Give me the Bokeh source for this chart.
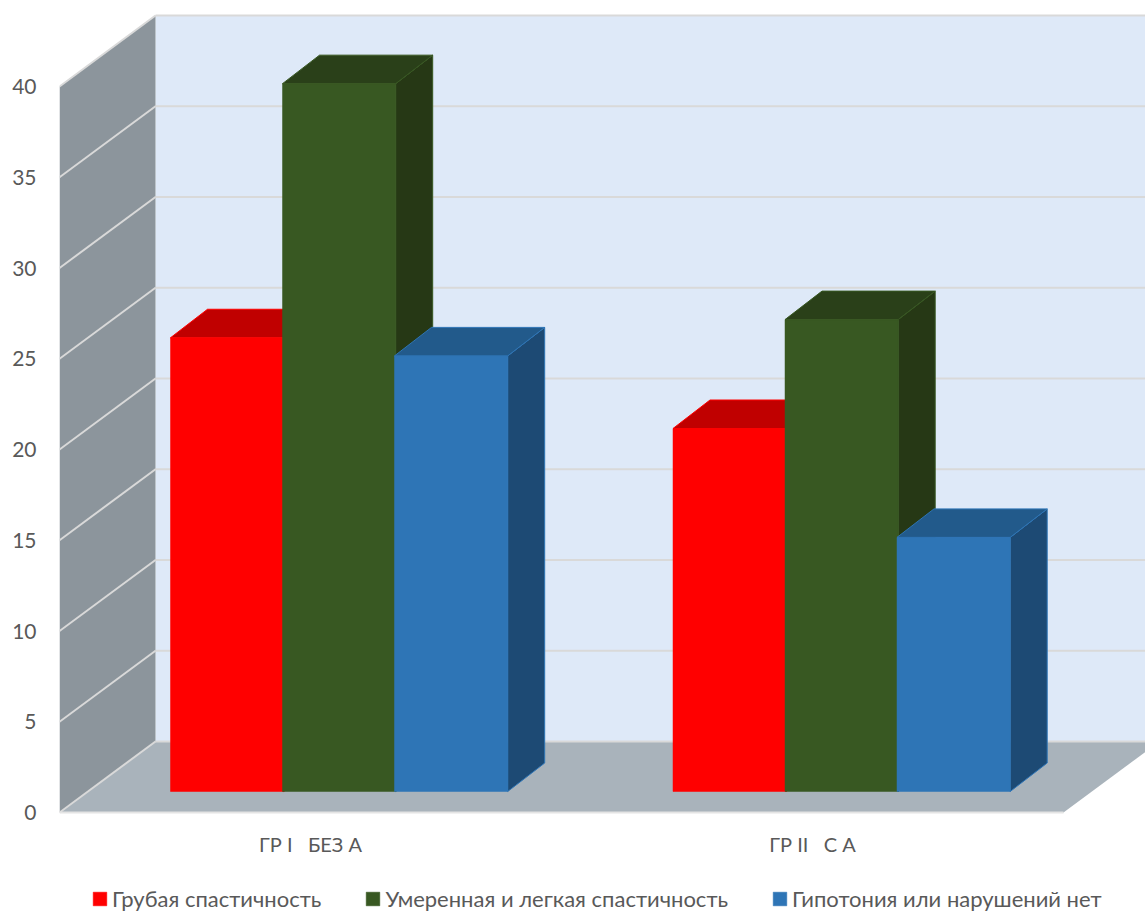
from bokeh.core.properties import value
from bokeh.embed import file_html
from bokeh.models import (FixedTicker, Legend, LegendItem, LinearAxis, Range1d)
from bokeh.plotting import figure
from bokeh.resources import INLINE

# Values
categories = ["ГР\u00a0I\u00a0\u00a0\u00a0БЕЗ\u00a0А", "ГР\u00a0II\u00a0\u00a0\u00a0С\u00a0А"]
series_names = ["Грубая спастичность", "Умеренная и легкая спастичность",
                "Гипотония или нарушений нет"]
spasticity_severe = [25, 20]
spasticity_mild = [39, 26]
hypotonia_or_none = [24, 14]
value_ticks = [0, 5, 10, 15, 20, 25, 30, 35, 40]

# Face colours per series: front, top, side
front_colors = ["#ff0000", "#385822", "#2e75b6"]
top_colors = ["#c00000", "#2a4019", "#225a8b"]
side_colors = ["#a80000", "#263815", "#1d4a74"]
edge_colors = ["#ff0000", "#385822", "#2e75b6"]

# Projection of the 3D box; x is in screen units, y in value units
PX_PER_UNIT = 18.15
WALL_LEFT, WALL_DX, WALL_DY = 59, 96, 71 / PX_PER_UNIT
WIDTH, HEIGHT = 1145, 912
ZERO_ROW = 812
FLOOR_RIGHT = 1063
TOP_VALUE = 40
BAR_LIFT = 21 / PX_PER_UNIT
BAR_DX, BAR_DY = 37, 28.5 / PX_PER_UNIT
GROUP_LEFT = [170, 672.5]
BAR_STEP, BAR_WIDTH = 112, 113.2
CATEGORY_X = [310, 812]
CATEGORY_Y = -31 / PX_PER_UNIT

y_start = (ZERO_ROW - HEIGHT) / PX_PER_UNIT
y_end = ZERO_ROW / PX_PER_UNIT

p = figure(frame_width=WIDTH - WALL_LEFT, frame_height=HEIGHT,
           output_backend="svg", toolbar_location=None,
           x_range=Range1d(WALL_LEFT, WIDTH), y_range=Range1d(y_start, y_end),
           x_axis_type=None, y_axis_type=None,
           min_border_left=WALL_LEFT, min_border_right=0, min_border_top=0,
           min_border_bottom=0)
p.outline_line_color = None
p.grid.visible = False
p.background_fill_color = "#ffffff"
p.border_fill_color = "#ffffff"

back_x, back_y = WALL_LEFT + WALL_DX, WALL_DY

# Back wall
p.patch([back_x, WIDTH, WIDTH, back_x], [back_y, back_y, back_y + TOP_VALUE, back_y + TOP_VALUE],
        fill_color="#dee9f8", line_color=None)
# Side wall
p.patch([WALL_LEFT, back_x, back_x, WALL_LEFT], [0, back_y, back_y + TOP_VALUE, TOP_VALUE],
        fill_color="#8c959c", line_color=None)
# Floor
floor_right_end = FLOOR_RIGHT + WALL_DX
p.patch([WALL_LEFT, FLOOR_RIGHT, floor_right_end, back_x], [0, 0, back_y, back_y],
        fill_color="#a9b3bb", line_color=None)

# Grid lines on the walls
for v in value_ticks:
    p.line([back_x, WIDTH], [back_y + v, back_y + v], line_color="#d9d9d9", line_width=2.2)
    p.line([WALL_LEFT, back_x], [v, back_y + v], line_color="#d9d9d9", line_width=2)
p.line([WALL_LEFT, FLOOR_RIGHT], [0, 0], line_color="#e4e4e4", line_width=2)

# Bars, painted left to right so that each one covers its neighbour's side
legend_renderers = []
all_values = [spasticity_severe, spasticity_mild, hypotonia_or_none]
for g, left in enumerate(GROUP_LEFT):
    for s, vals in enumerate(all_values):
        x0, x1 = left + s * BAR_STEP, left + s * BAR_STEP + BAR_WIDTH
        y0, y1 = BAR_LIFT, BAR_LIFT + vals[g]
        p.patch([x1, x1 + BAR_DX, x1 + BAR_DX, x1], [y0, y0 + BAR_DY, y1 + BAR_DY, y1],
                fill_color=side_colors[s], line_color=edge_colors[s], line_width=1)
        p.patch([x0, x1, x1 + BAR_DX, x0 + BAR_DX], [y1, y1, y1 + BAR_DY, y1 + BAR_DY],
                fill_color=top_colors[s], line_color=edge_colors[s], line_width=1)
        front = p.patch([x0, x1, x1, x0], [y0, y0, y1, y1],
                        fill_color=front_colors[s], line_color=edge_colors[s], line_width=0.5)
        if g == 0:
            legend_renderers.append(front)

FONT = "Lato"
TEXT_COLOR = "#595959"

y_axis = LinearAxis(ticker=FixedTicker(ticks=value_ticks))
y_axis.axis_line_color = None
y_axis.major_tick_line_color = None
y_axis.minor_tick_line_color = None
y_axis.major_tick_out = 0
y_axis.major_tick_in = 0
y_axis.major_label_text_font = FONT
y_axis.major_label_text_font_size = "21px"
y_axis.major_label_text_color = TEXT_COLOR
y_axis.major_label_standoff = 23
p.add_layout(y_axis, "left")

# Category names under the floor
p.text(x=CATEGORY_X, y=[CATEGORY_Y] * len(CATEGORY_X), text=categories,
       text_font=value(FONT), text_font_size="20px", text_color=TEXT_COLOR,
       text_align="center", text_baseline="middle")

legend = Legend(items=[LegendItem(label=n, renderers=[r]) for n, r in zip(series_names, legend_renderers)],
                orientation="horizontal", location=(32, 0), spacing=43,
                glyph_width=17, glyph_height=17, label_standoff=4, padding=0, margin=0,
                border_line_color=None, background_fill_alpha=0,
                label_text_font=FONT, label_text_font_size="22px", label_text_color=TEXT_COLOR)
p.add_layout(legend, "center")

open("out.html", "w").write(file_html(p, INLINE))
